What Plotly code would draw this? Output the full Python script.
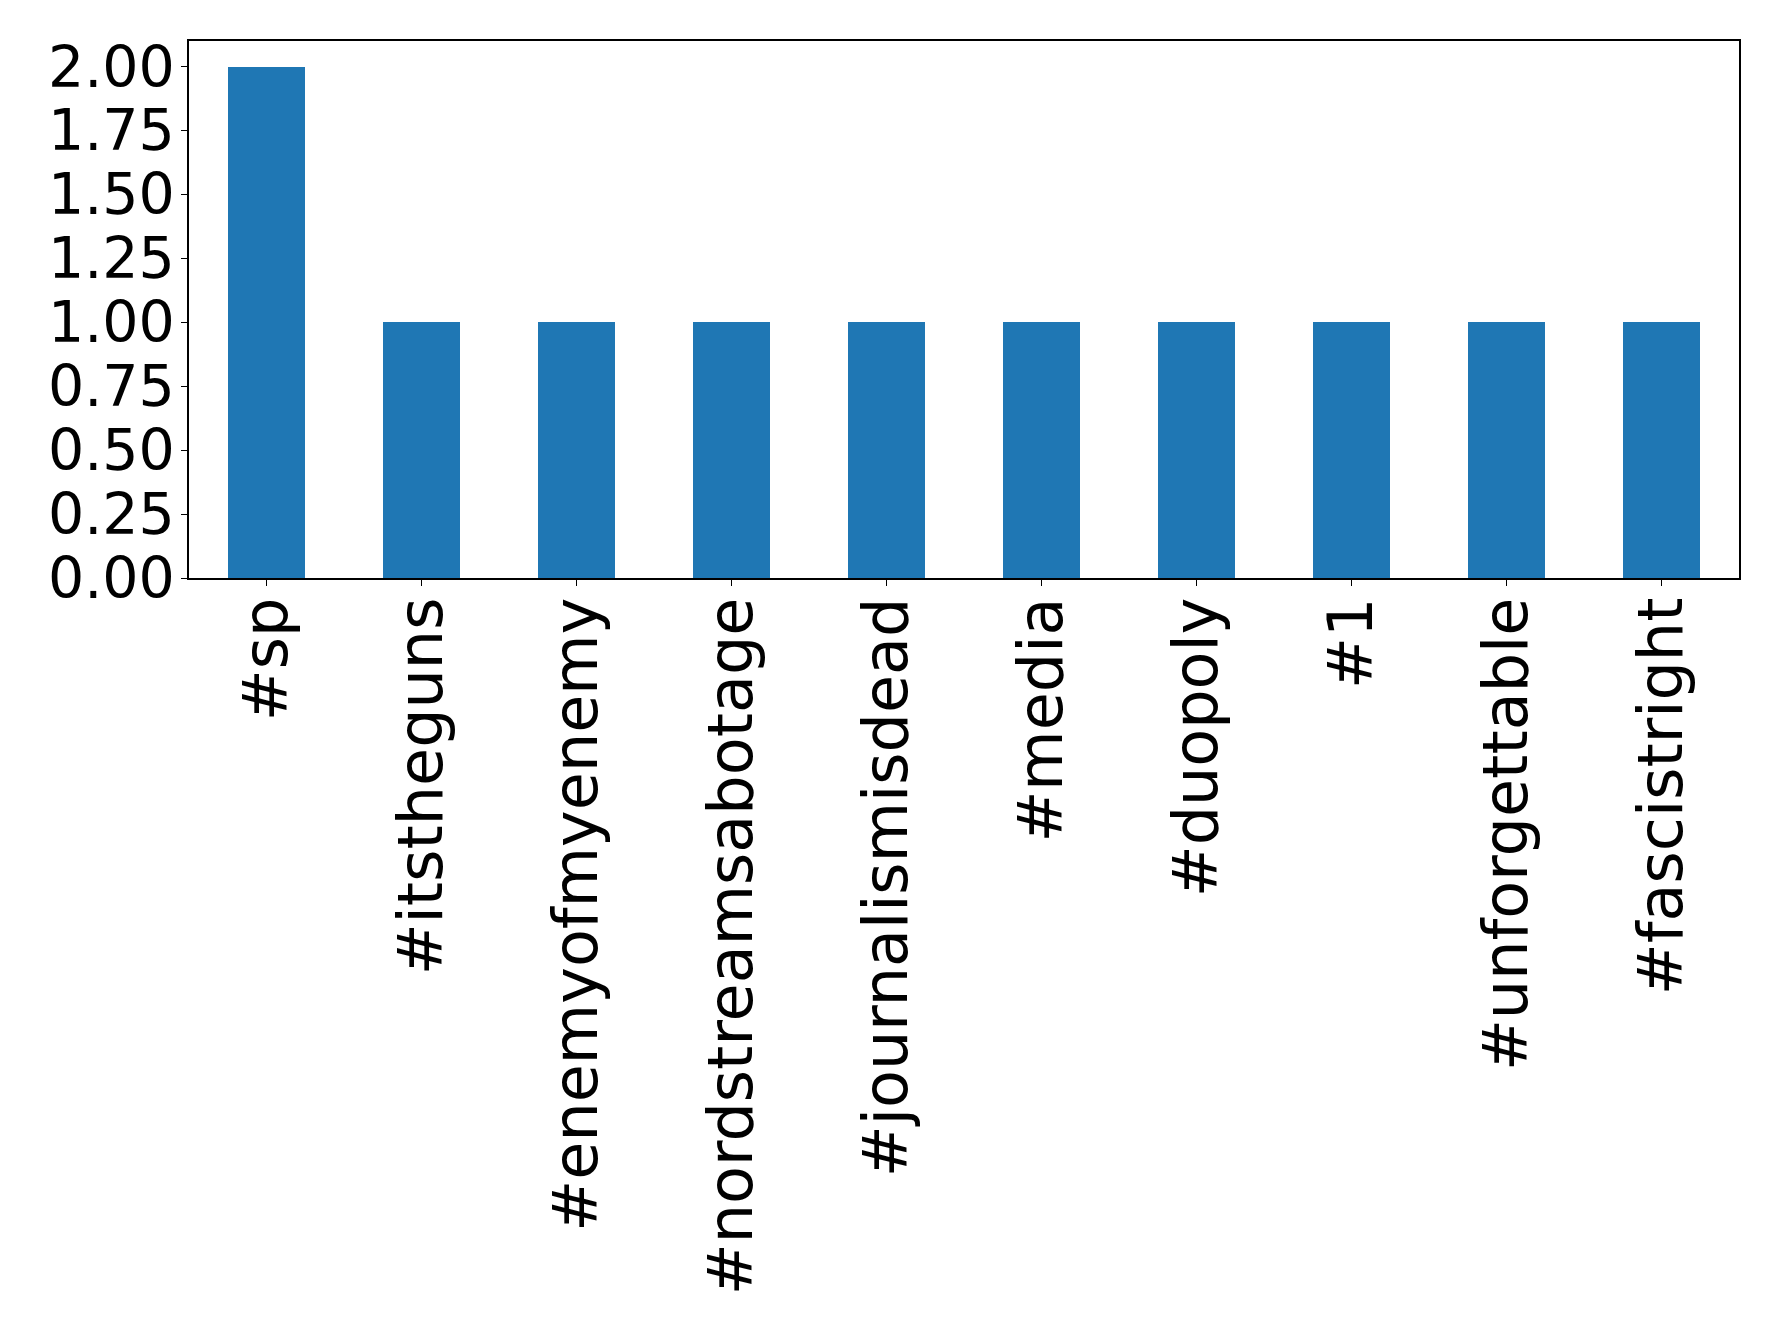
import plotly.graph_objects as go

categories = ["#sp", "#itstheguns", "#enemyofmyenemy", "#nordstreamsabotage",
              "#journalismisdead", "#media", "#duopoly", "#1",
              "#unforgettable", "#fascistright"]
counts = [2, 1, 1, 1, 1, 1, 1, 1, 1, 1]
y_ticks = [0, 0.25, 0.5, 0.75, 1.0, 1.25, 1.5, 1.75, 2.0]
y_tick_labels = ["0.00", "0.25", "0.50", "0.75", "1.00", "1.25", "1.50", "1.75", "2.00"]

fig = go.Figure(go.Bar(x=list(range(len(categories))), y=counts, width=0.5,
                       marker=dict(color="#1f77b4", line=dict(width=0))))

xfont = dict(family="DejaVu Sans", size=62, color="black")
yfont = dict(family="DejaVu Sans", size=57, color="black")
fig.update_layout(
    width=1778, height=1331,
    margin=dict(l=181, r=47, t=33, b=761),
    paper_bgcolor="white", plot_bgcolor="white",
    showlegend=False, bargap=0,
    font=xfont,
)
fig.update_xaxes(
    range=[-0.5, 9.5], tickmode="array",
    tickvals=list(range(len(categories))), ticktext=categories,
    tickangle=-90, ticks="outside", ticklen=6, tickwidth=1.2, tickcolor="black",
    showline=True, linecolor="black", linewidth=1.5, mirror=True,
    showgrid=False, zeroline=False, tickfont=xfont, ticklabelstandoff=-13,
)
fig.update_yaxes(
    range=[0, 2.1], tickmode="array", tickvals=y_ticks, ticktext=y_tick_labels,
    ticks="outside", ticklen=6, tickwidth=1.2, tickcolor="black",
    showline=True, linecolor="black", linewidth=1.5, mirror=True,
    showgrid=False, zeroline=False, tickfont=yfont, ticklabelstandoff=-5,
)
fig.write_html("out.html")
